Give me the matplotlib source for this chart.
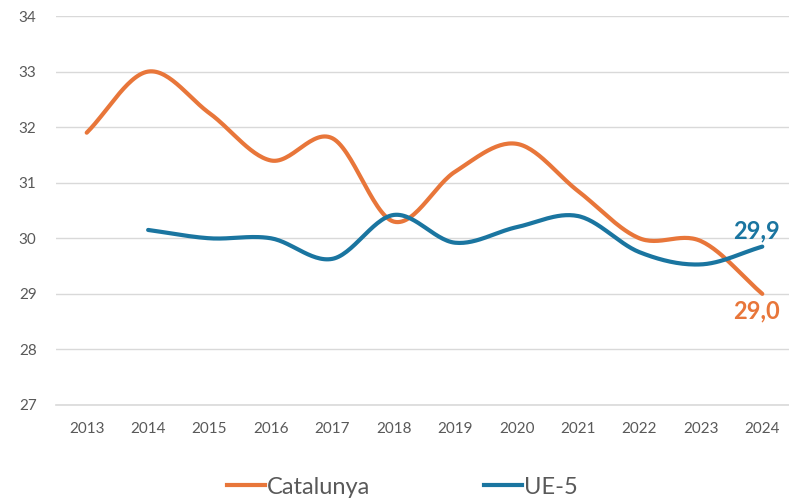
import numpy as np
import matplotlib
matplotlib.use("Agg")
import matplotlib.pyplot as plt
from matplotlib.lines import Line2D

years = [2013, 2014, 2015, 2016, 2017, 2018, 2019, 2020, 2021, 2022, 2023, 2024]
catalunya = [31.9, 33.0, 32.25, 31.4, 31.8, 30.3, 31.2, 31.7, 30.85, 30.0, 29.95, 29.0]
ue5_years = [2014, 2015, 2016, 2017, 2018, 2019, 2020, 2021, 2022, 2023, 2024]
ue5 = [30.15, 30.0, 30.0, 29.63, 30.42, 29.92, 30.2, 30.4, 29.75, 29.53, 29.85]
yticks = [27, 28, 29, 30, 31, 32, 33, 34]

ORANGE = "#E8763A"
BLUE = "#1A75A0"
GREY = "#595959"

def smooth(x, y, n=30):
    x = np.asarray(x, float); y = np.asarray(y, float)
    m = len(x)
    t = np.zeros(m)
    for i in range(m):
        if i == 0:
            t[i] = (y[1] - y[0]) / (x[1] - x[0])
        elif i == m - 1:
            t[i] = (y[-1] - y[-2]) / (x[-1] - x[-2])
        else:
            t[i] = (y[i + 1] - y[i - 1]) / (x[i + 1] - x[i - 1])
    xs, ys = [], []
    for i in range(m - 1):
        h = x[i + 1] - x[i]
        s = np.linspace(0, 1, n, endpoint=(i == m - 2))
        h00 = 2 * s**3 - 3 * s**2 + 1
        h10 = s**3 - 2 * s**2 + s
        h01 = -2 * s**3 + 3 * s**2
        h11 = s**3 - s**2
        xs.append(x[i] + s * h)
        ys.append(h00 * y[i] + h10 * h * t[i] + h01 * y[i + 1] + h11 * h * t[i + 1])
    return np.concatenate(xs), np.concatenate(ys)

plt.rcParams['font.family'] = ['Lato', 'DejaVu Sans']
fig = plt.figure(figsize=(7.89, 5.0), dpi=100)
ax = fig.add_axes([56 / 789, 1 - 405 / 500, 737 / 789, (405 - 16) / 500])

cx, cy = smooth(years, catalunya)
ux, uy = smooth(ue5_years, ue5)
ax.plot(cx, cy, color=ORANGE, lw=3, solid_capstyle='round', zorder=3)
ax.plot(ux, uy, color=BLUE, lw=3, solid_capstyle='round', zorder=3)

ax.set_xlim(2012.5, 2024.5)
ax.set_ylim(27, 34)
ax.set_yticks(yticks)
ax.set_xticks(years)
ax.set_xticklabels([str(y) for y in years])
ax.grid(axis='y', color='#d9d9d9', lw=1)
ax.set_axisbelow(True)
for s in ['top', 'right', 'left']:
    ax.spines[s].set_visible(False)
ax.spines['bottom'].set_color('#d9d9d9')
ax.spines['bottom'].set_linewidth(1.2)
ax.tick_params(length=0, labelsize=11, colors=GREY, pad=12)
ax.tick_params(axis='y', pad=14)

ax.annotate("29,9", (years[-1], ue5[-1]), xytext=(-4, 11), textcoords='offset points',
            ha='center', va='center', color=BLUE, fontsize=17, fontweight='bold')
ax.annotate("29,0", (years[-1], catalunya[-1]), xytext=(-4, -12.5), textcoords='offset points',
            ha='center', va='center', color=ORANGE, fontsize=17, fontweight='bold')

handles = [Line2D([], [], color=ORANGE, lw=3), Line2D([], [], color=BLUE, lw=3)]
fig.legend(handles, ["Catalunya", "UE-5"], loc='center', bbox_to_anchor=(0.51, 1 - 487 / 500),
           ncol=2, frameon=False, fontsize=17, labelcolor=GREY, handlelength=1.6,
           handletextpad=0.1, columnspacing=4.8)

fig.savefig("out.png", dpi=100)
